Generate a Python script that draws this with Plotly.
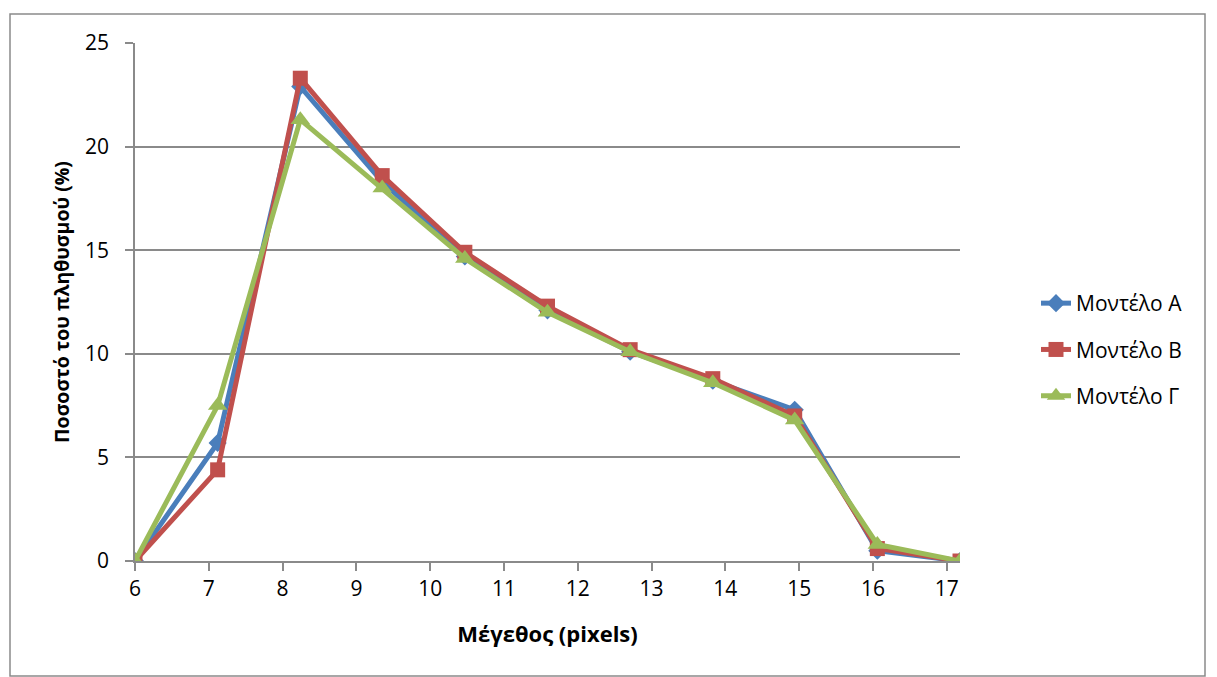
import plotly.graph_objects as go

# Size values (pixels) and population share (%) for each model
sizes = [6, 7.12, 8.24, 9.35, 10.47, 11.59, 12.71, 13.83, 14.94, 16.06, 17.18]
model_a = [0, 5.7, 22.9, 18.3, 14.7, 12.1, 10.1, 8.7, 7.3, 0.5, 0]
model_b = [0, 4.4, 23.3, 18.6, 14.9, 12.3, 10.2, 8.8, 7.0, 0.6, 0]
model_g = [0, 7.5, 21.3, 18.0, 14.6, 12.0, 10.1, 8.6, 6.8, 0.8, 0]
x_ticks = [6, 7, 8, 9, 10, 11, 12, 13, 14, 15, 16, 17]
y_ticks = [0, 5, 10, 15, 20, 25]

W, H = 1217, 677
L, R, T, B = 135, 257, 43, 116
pw, ph = W - L - R, H - T - B

FONT = "Open Sans"
GRID = "#8a8a8a"

series = [
    ("Μοντέλο Α", model_a, "#4A7EBB", "diamond", 14),
    ("Μοντέλο Β", model_b, "#C0504D", "square", 15),
    ("Μοντέλο Γ", model_g, "#9BBB59", "triangle-up", 17),
]

fig = go.Figure()
for name, vals, color, sym, sz in series:
    fig.add_trace(go.Scatter(
        x=sizes, y=vals, name=name, legendgroup=name, mode="lines+markers",
        line=dict(color=color, width=5),
        marker=dict(symbol=sym, size=sz, color=color),
    ))

def px_x(p):
    return (p - L) / pw

def px_y(p):
    return (H - B - p) / ph

fig.update_layout(
    width=W, height=H,
    margin=dict(l=L, r=R, t=T, b=B),
    paper_bgcolor="white", plot_bgcolor="white",
    font=dict(family=FONT, size=21, color="black"),
    xaxis=dict(
        range=[6, 17.18], tickvals=x_ticks, ticktext=[str(v) for v in x_ticks],
        showgrid=False, zeroline=False,
        showline=True, linecolor=GRID, linewidth=1.5,
        ticks="outside", ticklen=8, tickcolor=GRID, tickwidth=1.5,
        tickfont=dict(size=21), ticklabelstandoff=0,
        title=dict(text="<b>Μέγεθος (pixels)</b>", font=dict(size=22), standoff=26),
    ),
    yaxis=dict(
        range=[0, 25], tickvals=y_ticks,
        showgrid=True, gridcolor=GRID, gridwidth=1.5, zeroline=False,
        showline=True, linecolor=GRID, linewidth=1.5,
        ticks="outside", ticklen=8, tickcolor=GRID, tickwidth=1.5,
        tickfont=dict(size=21), ticklabelstandoff=12,
        title=dict(text="<b>Ποσοστό του πληθυσμού (%)</b>", font=dict(size=19.5), standoff=10),
    ),
    legend=dict(
        x=px_x(1036), y=px_y(283), xanchor="left", yanchor="top",
        font=dict(size=21), tracegroupgap=16, itemsizing="trace",
        bgcolor="rgba(0,0,0,0)",
    ),
    shapes=[dict(
        type="rect", xref="paper", yref="paper",
        x0=px_x(10), x1=px_x(1205), y0=px_y(676), y1=px_y(14),
        line=dict(color="#8a8a8a", width=1.5), fillcolor="rgba(0,0,0,0)",
        layer="below",
    )],
)

fig.write_html("out.html")
